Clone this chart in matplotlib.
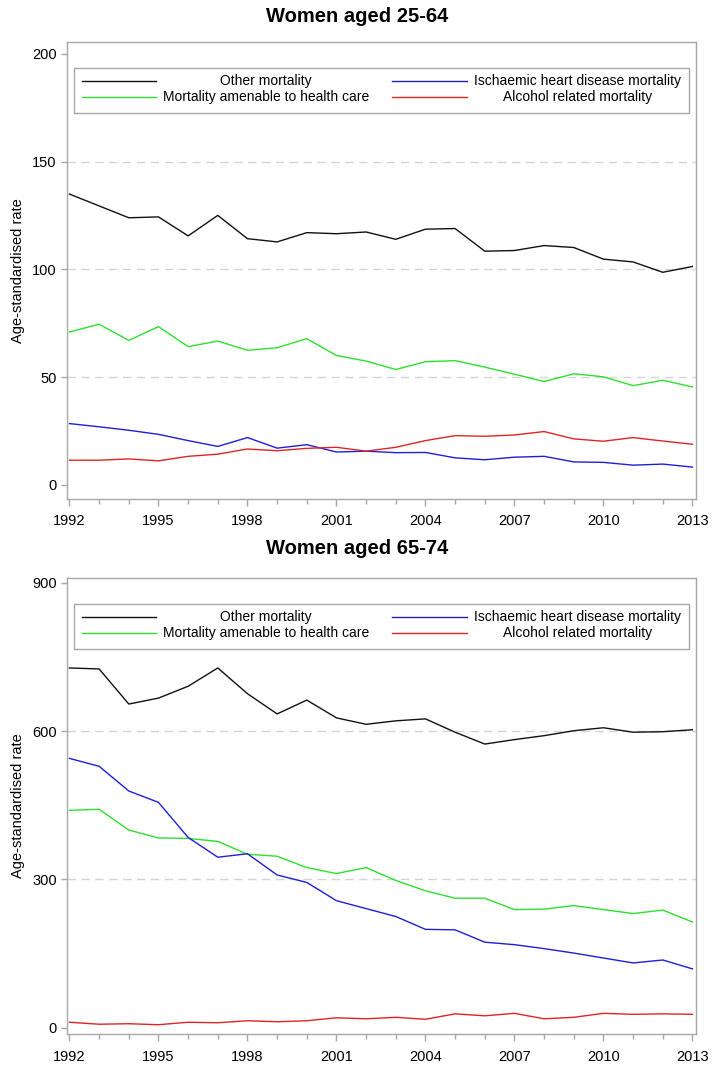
import matplotlib
matplotlib.use("Agg")
import matplotlib.pyplot as plt
from matplotlib.patches import Rectangle
from matplotlib.lines import Line2D
from matplotlib.ticker import FixedLocator, MultipleLocator

plt.rcParams['font.family'] = ['Liberation Sans', 'DejaVu Sans']

years = list(range(1992, 2014))

series_names = ["Other mortality", "Mortality amenable to health care",
                "Ischaemic heart disease mortality", "Alcohol related mortality"]
series_colors = ["#111111", "#2ee02e", "#1f1fd6", "#e02424"]

top_other = [135, 129.5, 124, 124.4, 115.6, 125.1, 114.3, 112.8, 117.1, 116.6, 117.4,
             114, 118.7, 119, 108.5, 108.8, 111.1, 110.2, 104.8, 103.5, 98.7, 101.4]
top_amen = [71, 74.6, 67.1, 73.5, 64.2, 66.8, 62.5, 63.7, 67.9, 60.1, 57.5,
            53.6, 57.2, 57.7, 54.7, 51.4, 48, 51.6, 50.2, 46.1, 48.6, 45.5]
top_ihd = [28.5, 27, 25.4, 23.5, 20.6, 17.9, 22, 17.1, 18.7, 15.3, 15.7,
           15, 15.1, 12.6, 11.7, 12.9, 13.3, 10.7, 10.5, 9.2, 9.7, 8.3]
top_alc = [11.5, 11.5, 12.1, 11.2, 13.3, 14.3, 16.7, 15.9, 17, 17.5, 15.7,
           17.5, 20.6, 22.9, 22.6, 23.2, 24.8, 21.4, 20.3, 22, 20.4, 18.9]

bot_other = [728, 726, 655, 667, 691, 728, 676, 635, 663, 627, 614,
             621, 625, 598, 574, 583, 591, 601, 607, 598, 599, 603]
bot_amen = [440, 442, 400, 384, 383, 377, 351, 347, 324, 312, 324,
            298, 277, 262, 262, 239, 240, 247, 239, 231, 238, 214]
bot_ihd = [545, 529, 479, 456, 385, 345, 352, 309, 294, 257, 241,
           225, 199, 198, 173, 168, 160, 151, 141, 131, 137, 119]
bot_alc = [11, 7, 8, 6, 11, 10, 14, 12, 14, 20, 18,
           21, 17, 28, 24, 29, 18, 21, 29, 27, 28, 27]

top_yticks = [0, 50, 100, 150, 200]
bot_yticks = [0, 300, 600, 900]
xticks = list(range(1992, 2014, 3))

titles = ["Women aged 25-64", "Women aged 65-74"]
ylabel = "Age-standardised rate"

W, H = 714, 1071
fig = plt.figure(figsize=(W / 100, H / 100), dpi=100)

def frac_x(px):
    return px / W

def frac_y(py):
    return 1 - py / H

ax_left, ax_right = 66.5, 696
panels = [
    dict(top=41.7, bottom=499, ylim=(-6.5, 205.7), yticks=top_yticks,
         data=[top_other, top_amen, top_ihd, top_alc], title=titles[0], title_y=17),
    dict(top=577.7, bottom=1034.3, ylim=(-13.4, 910.7), yticks=bot_yticks,
         data=[bot_other, bot_amen, bot_ihd, bot_alc], title=titles[1], title_y=548),
]

frame_col = "#a8a8a8"
grid_col = "#d4d4d4"

for p in panels:
    ax = fig.add_axes([frac_x(ax_left), frac_y(p['bottom']),
                       (ax_right - ax_left) / W, (p['bottom'] - p['top']) / H])
    for vals, col in zip(p['data'], series_colors):
        ax.plot(years, vals, color=col, lw=1.0, zorder=3)
    ax.set_xlim(1991.9, 2013.12)
    ax.set_ylim(*p['ylim'])
    ax.yaxis.set_major_locator(FixedLocator(p['yticks']))
    ax.xaxis.set_major_locator(FixedLocator(xticks))
    ax.xaxis.set_minor_locator(MultipleLocator(1))
    for s in ax.spines.values():
        s.set_color(frame_col)
        s.set_linewidth(1.0)
    ax.tick_params(axis='both', which='major', colors=frame_col, labelcolor='black',
                   labelsize=10.5, length=5, width=1)
    ax.tick_params(axis='x', which='minor', colors=frame_col, length=3.5, width=1)
    ax.tick_params(axis='x', which='major', pad=6)
    ax.tick_params(axis='y', which='major', pad=3, length=4)
    for yv in p['yticks'][1:-1]:
        ax.axhline(yv, color=grid_col, lw=1.0, ls=(0, (6, 4)), zorder=1)
    ax.set_ylabel(ylabel, fontsize=10.5)
    ax.yaxis.set_label_coords(-(ax_left - 25) / (ax_right - ax_left), 0.5)

    lx0, lx1 = (74 - ax_left) / (ax_right - ax_left), (689 - ax_left) / (ax_right - ax_left)
    ly0, ly1 = 0.8445, 0.9425
    ax.add_patch(Rectangle((lx0, ly0), lx1 - lx0, ly1 - ly0, transform=ax.transAxes,
                           facecolor='white', edgecolor=frame_col, lw=1.0, zorder=5))
    row_y = [ly1 - 0.028, ly1 - 0.064]
    col_handle = [(0.0246, 0.142), (0.5176, 0.6357)]
    col_text = [0.3164, 0.8118]
    order = [(0, 0), (1, 0), (0, 1), (1, 1)]
    for (r, c), name, col in zip(order, series_names, series_colors):
        hx0, hx1 = col_handle[c]
        ax.add_line(Line2D([hx0, hx1], [row_y[r], row_y[r]], transform=ax.transAxes,
                           color=col, lw=1.0, zorder=6))
        ax.text(col_text[c], row_y[r], name, transform=ax.transAxes, ha='center',
                va='center', fontsize=10, zorder=6)

    fig.text(0.5, frac_y(p['title_y']), p['title'], ha='center', va='center',
             fontsize=14.5, fontweight='bold')

fig.savefig("out.png", dpi=100)
